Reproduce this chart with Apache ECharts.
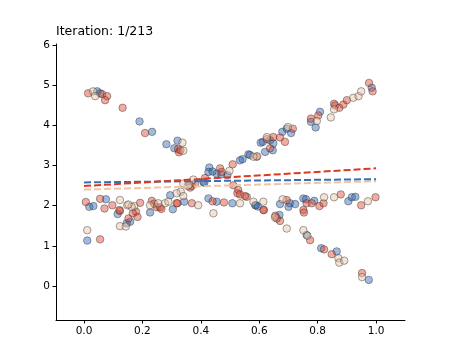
<!DOCTYPE html>
<html><head><meta charset="utf-8">
<script src="https://cdn.jsdelivr.net/npm/echarts@6/dist/echarts.min.js"></script>
<style>html,body{margin:0;padding:0;background:#fff}#c{width:450px;height:360px}</style>
</head><body><div id="c"></div>
<script>
const titleText = "Iteration: 1/213";
const xTicks = [0, 0.2, 0.4, 0.6, 0.8, 1.0];
const yTicks = [0, 1, 2, 3, 4, 5, 6];
const fitX = [0, 1];
const blueFit = [2.58, 2.66];
const redFit = [2.49, 2.93];
const peachFit = [2.40, 2.61];

const blue = [
[0.045,4.85],[0.055,4.80],[0.19,4.10],[0.233,3.84],[0.282,3.53],[0.32,3.62],[0.309,3.43],
[0.018,1.97],[0.032,1.99],[0.075,2.16],[0.115,1.79],[0.226,1.83],[0.146,1.56],[0.158,1.60],[0.011,1.13],
[0.295,2.26],[0.343,2.10],[0.304,1.91],[0.426,2.18],[0.454,2.10],[0.508,2.06],[0.586,2.01],
[0.429,2.95],[0.426,2.84],[0.454,2.80],[0.491,2.76],[0.543,3.16],[0.563,3.28],[0.409,2.59],[0.412,2.57],
[0.568,3.26],[0.612,3.59],[0.62,3.34],[0.637,3.63],[0.648,3.55],[0.646,3.38],[0.679,3.84],[0.694,3.92],[0.709,3.81],[0.808,4.34],[0.777,4.09],[0.793,3.95],[0.985,4.94],
[0.589,2.01],[0.595,1.98],[0.669,1.77],[0.671,2.04],[0.70,1.97],[0.705,2.06],[0.723,2.04],[0.751,2.18],[0.76,2.16],[0.788,2.12],[0.905,2.11],[0.917,2.21],[0.929,2.22],
[0.762,1.27],[0.812,0.94],[0.865,0.86],[0.975,0.15],[0.605,3.57],[0.534,3.13],[0.44,2.85],[0.47,2.78]
];
const red = [
[0.014,4.80],[0.062,4.78],[0.079,4.73],[0.072,4.63],[0.132,4.44],[0.209,3.81],[0.322,3.41],[0.325,3.33],[0.33,3.38],
[0.006,2.09],[0.055,2.17],[0.07,1.93],[0.097,2.01],[0.123,1.87],[0.192,2.07],[0.232,2.12],[0.152,1.68],[0.178,1.85],[0.183,1.72],[0.167,1.81],[0.121,1.89],[0.055,1.16],
[0.249,1.96],[0.26,1.96],[0.265,1.92],[0.24,2.05],[0.32,2.06],[0.317,2.06],[0.369,2.06],[0.44,2.11],[0.479,2.08],[0.363,2.45],[0.369,2.49],[0.38,2.55],[0.414,2.69],
[0.466,2.93],[0.471,2.84],[0.509,3.03],[0.511,2.51],[0.528,2.39],[0.525,2.31],[0.534,2.28],[0.557,2.22],[0.551,2.24],
[0.591,3.22],[0.637,3.43],[0.648,3.71],[0.671,3.70],[0.688,3.59],[0.715,3.92],[0.777,4.17],[0.802,4.25],[0.856,4.54],[0.86,4.50],[0.874,4.44],[0.888,4.52],[0.90,4.63],[0.976,5.06],[0.988,4.85],[0.626,3.66],
[0.616,1.89],[0.614,1.89],[0.671,1.62],[0.694,2.14],[0.751,1.89],[0.753,1.83],[0.762,2.06],[0.78,2.06],[0.806,1.99],[0.82,2.06],[0.879,2.28],[0.949,2.01],[0.998,2.21],
[0.774,1.14],[0.822,0.91],[0.848,0.79],[0.952,0.32],[0.66,1.68],[0.655,1.75]
];
const peach = [
[0.031,4.85],[0.038,4.73],[0.337,3.57],[0.34,3.37],
[0.123,2.14],[0.148,2.01],[0.172,1.99],[0.226,2.01],[0.123,1.49],[0.143,1.48],[0.011,1.39],[0.163,1.97],[0.152,2.03],
[0.254,2.06],[0.277,2.06],[0.289,2.10],[0.331,2.35],[0.34,2.24],[0.355,2.49],[0.374,2.65],[0.36,2.53],[0.34,2.55],[0.317,2.31],[0.391,2.01],[0.534,2.06],[0.443,1.81],[0.498,2.87],
[0.593,3.23],[0.698,3.96],[0.797,4.11],[0.845,4.20],[0.856,4.40],[0.922,4.69],[0.94,4.73],[0.949,4.85],[0.58,3.22],
[0.58,2.10],[0.614,2.10],[0.654,1.71],[0.694,1.43],[0.68,2.16],[0.822,2.21],[0.856,2.21],[0.972,2.11],
[0.751,1.39],[0.765,1.25],[0.871,0.69],[0.874,0.58],[0.891,0.63],[0.952,0.22],[0.626,3.71]
];

const FONT = "DejaVu Sans";
function scatter(data, color) {
  return { type: 'scatter', data: data, symbolSize: 7.5, z: 2,
    itemStyle: { color: color, borderColor: '#333', borderWidth: 1, opacity: 0.45 } };
}
function fit(vals, color) {
  return { type: 'line', data: fitX.map((x, i) => [x, vals[i]]), symbol: 'none', z: 3,
    lineStyle: { color: color, width: 2, type: [7, 3] } };
}
const chart = echarts.init(document.getElementById('c'));
chart.setOption({
  animation: false,
  title: { text: titleText, left: 51, top: 20,
    textStyle: { fontFamily: FONT, fontSize: 12.5, fontWeight: 'normal', color: '#000' } },
  grid: { left: 56, right: 45, top: 44, bottom: 40, containLabel: false },
  xAxis: { type: 'value', min: -0.096, max: 1.099,
    axisLine: { onZero: false, lineStyle: { color: '#000', width: 1 } },
    axisTick: { show: true, length: 3.5, lineStyle: { color: '#000' }, customValues: xTicks },
    axisLabel: { customValues: xTicks, formatter: v => v.toFixed(1), color: '#000',
      fontFamily: FONT, fontSize: 10.5, margin: 6 },
    splitLine: { show: false } },
  yAxis: { type: 'value', min: -0.85, max: 6.03,
    axisLine: { show: true, onZero: false, lineStyle: { color: '#000', width: 1 } },
    axisTick: { show: true, length: 3.5, lineStyle: { color: '#000' }, customValues: yTicks },
    axisLabel: { customValues: yTicks, formatter: v => String(v), color: '#000',
      fontFamily: FONT, fontSize: 10.5, margin: 6 },
    splitLine: { show: false } },
  series: [
    scatter(blue, '#2d69b9'),
    scatter(red, '#e0452f'),
    scatter(peach, '#e8c3a3'),
    fit(peachFit, '#f0c4a2'),
    fit(blueFit, '#3570b8'),
    fit(redFit, '#dc3a1e')
  ]
});
</script></body></html>
